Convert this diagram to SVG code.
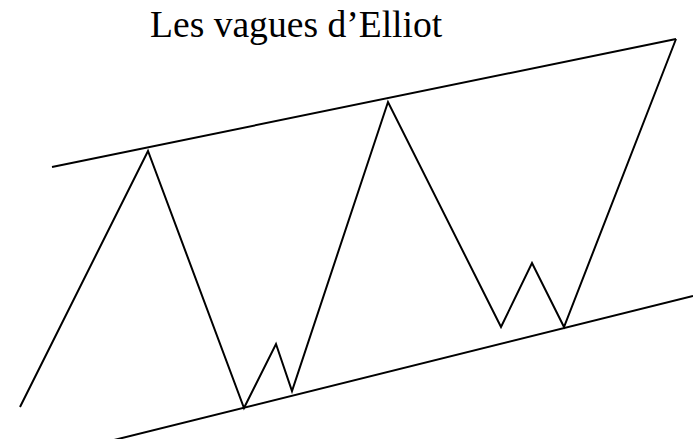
<svg xmlns="http://www.w3.org/2000/svg" width="693" height="439" viewBox="0 0 693 439">
<style>
.ln{fill:none;stroke:#000;stroke-width:2;stroke-linejoin:miter;stroke-linecap:butt}
.t{font-family:"Liberation Serif","Times New Roman",serif;font-size:37.6px;fill:#000}
</style>
<rect width="693" height="439" fill="#fff"/>
<g id="title"><text class="t" x="150" y="37">Les vagues d’Elliot</text></g>
<g id="connectors">
<line class="ln" x1="52" y1="167" x2="676" y2="39"/>
<line class="ln" x1="110" y1="441" x2="693" y2="296"/>
<polyline class="ln" points="20,407 148,151 244,408 276,344 292,391 388,102 501,327 532,263 564,327 676,39"/>
</g>
</svg>
